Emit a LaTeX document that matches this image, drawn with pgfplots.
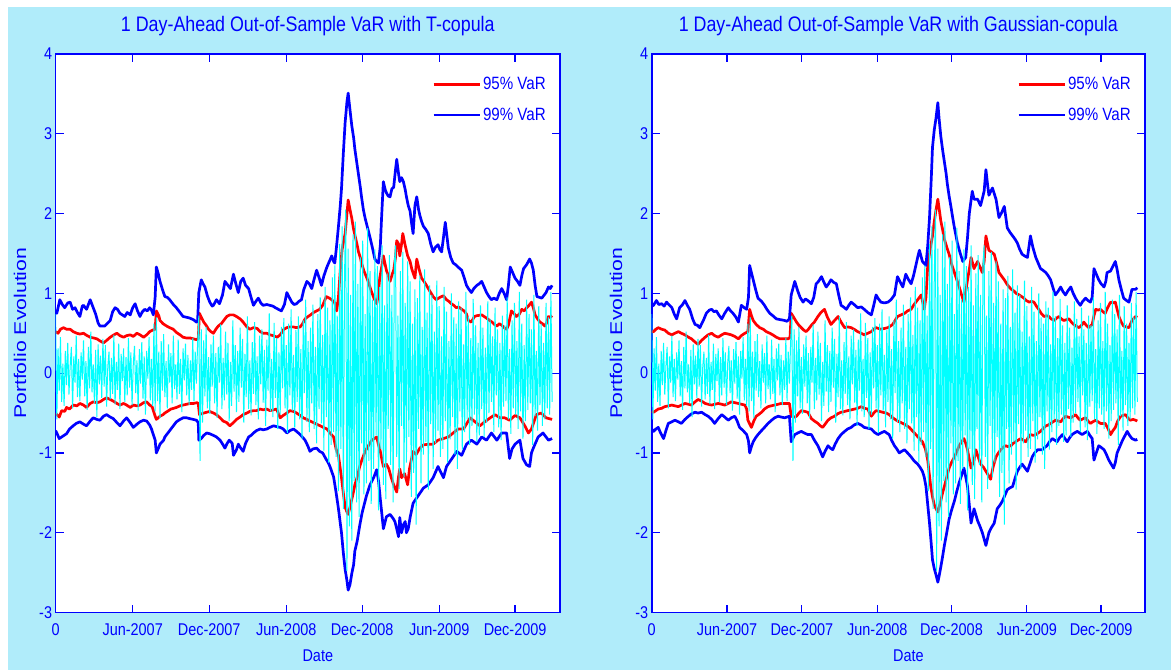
\documentclass[border=0pt]{standalone}
\usepackage{pgfplots}
\pgfplotsset{compat=1.18}
\usepackage{pgfplotstable}
\usepackage{fontspec}
\setmainfont{Liberation Sans}
\newfontfamily\narrowsans{Liberation Sans}[FakeStretch=0.85]
\newfontfamily\tallsans{Liberation Sans}[FakeStretch=1.25]

\definecolor{figbg}{RGB}{176,236,250}
\definecolor{retcyan}{RGB}{0,255,255}
\definecolor{varred}{RGB}{255,0,0}
\definecolor{varblue}{RGB}{0,0,255}

% daily portfolio evolution, sampled every second trading day (day = 2*row)
\pgfplotstableread[row sep=\\,header=false]{
0.74\\ -0.58\\ 0.31\\ -0.22\\ 0.45\\ -0.36\\ 0.12\\ -0.41\\ 0.28\\ -0.15\\
0.38\\ -0.27\\ 0.09\\ 0.33\\ -0.44\\ 0.21\\ -0.12\\ 0.47\\ -0.30\\ 0.18\\
-0.35\\ 0.26\\ -0.08\\ 0.41\\ -0.29\\ 0.15\\ -0.46\\ 0.33\\ -0.19\\ 0.52\\
-0.24\\ 0.11\\ -0.38\\ 0.29\\ -0.55\\ 0.36\\ -0.14\\ 0.22\\ -0.31\\ 0.43\\
-0.17\\ 0.35\\ -0.42\\ 0.08\\ 0.27\\ -0.33\\ 0.19\\ -0.26\\ 0.48\\ -0.39\\
0.14\\ -0.21\\ 0.37\\ -0.45\\ 0.24\\ -0.10\\ 0.31\\ -0.36\\ 0.20\\ -0.28\\
0.44\\ -0.18\\ 0.26\\ -0.40\\ 0.12\\ 0.34\\ -0.25\\ 0.16\\ -0.47\\ 0.30\\
-0.13\\ 0.39\\ -0.32\\ 0.21\\ -0.52\\ 0.28\\ -0.07\\ 0.45\\ -0.34\\ 0.18\\
-0.41\\ 0.62\\ -0.48\\ 0.70\\ -0.35\\ 0.27\\ -0.56\\ 0.40\\ -0.22\\ 0.49\\
-0.30\\ 0.15\\ -0.44\\ 0.36\\ -0.12\\ 0.25\\ -0.38\\ 0.47\\ -0.20\\ 0.11\\
-0.33\\ 0.42\\ -0.26\\ 0.18\\ -0.49\\ 0.31\\ -0.09\\ 0.37\\ -0.28\\ 0.23\\
-0.40\\ 0.16\\ -0.21\\ 0.44\\ -0.35\\ 0.27\\ -0.13\\ 0.38\\ 0.72\\ -1.10\\
0.55\\ -0.62\\ 0.41\\ -0.29\\ 0.58\\ -0.44\\ 0.20\\ -0.51\\ 0.36\\ -0.17\\
0.47\\ -0.38\\ 0.25\\ -0.56\\ 0.33\\ -0.12\\ 0.61\\ -0.45\\ 0.19\\ -0.34\\
0.52\\ -0.27\\ 0.38\\ -0.60\\ 0.14\\ -0.41\\ 0.66\\ -0.23\\ 0.35\\ -0.49\\
0.28\\ -0.36\\ 0.57\\ -0.18\\ 0.43\\ -0.62\\ 0.24\\ -0.30\\ 0.71\\ -0.45\\
0.16\\ -0.53\\ 0.39\\ -0.26\\ 0.64\\ -0.40\\ 0.21\\ -0.58\\ 0.47\\ -0.14\\
0.55\\ -0.37\\ 0.29\\ -0.66\\ 0.42\\ -0.22\\ 0.75\\ -0.48\\ 0.18\\ -0.55\\
0.63\\ -0.31\\ 0.44\\ -0.70\\ 0.26\\ -0.52\\ 0.58\\ -0.19\\ 0.69\\ -0.44\\
0.35\\ -0.75\\ 0.62\\ -0.28\\ 0.80\\ -0.47\\ 0.23\\ -0.68\\ 0.54\\ -0.36\\
0.71\\ -0.58\\ 0.30\\ -0.82\\ 0.66\\ -0.25\\ 0.92\\ -0.61\\ 0.40\\ -0.74\\
0.57\\ -0.38\\ 0.86\\ -0.70\\ 0.33\\ -0.88\\ 0.74\\ -0.45\\ 0.95\\ -0.63\\
0.48\\ -0.97\\ 1.08\\ -0.55\\ 0.82\\ -1.12\\ 0.66\\ -0.90\\ 1.20\\ -0.74\\
1.35\\ -1.05\\ 0.72\\ -1.48\\ 1.62\\ -0.95\\ 1.84\\ -1.70\\ 1.21\\ 2.05\\
-2.48\\ 1.56\\ -1.92\\ 0.98\\ -2.10\\ 1.74\\ -1.35\\ 1.90\\ -1.62\\ 1.12\\
-1.80\\ 1.45\\ -0.88\\ 1.66\\ -1.52\\ 0.74\\ -1.38\\ 1.82\\ -1.10\\ 1.28\\
-1.64\\ 0.92\\ -1.20\\ 1.55\\ -0.78\\ 1.34\\ -1.72\\ 1.08\\ -0.95\\ 1.60\\
-1.40\\ 0.85\\ -1.58\\ 1.25\\ -0.70\\ 1.48\\ -1.15\\ 0.98\\ -1.62\\ 1.36\\
1.60\\ -1.05\\ 0.72\\ -1.45\\ 1.28\\ -0.66\\ 1.52\\ -1.30\\ 0.88\\ -1.12\\
1.40\\ -0.80\\ 1.15\\ -1.55\\ 0.62\\ -1.25\\ 1.05\\ -1.90\\ 0.94\\ -0.70\\
1.22\\ -1.38\\ 0.58\\ -1.02\\ 1.30\\ -0.86\\ 0.76\\ -1.46\\ 1.10\\ -0.64\\
0.98\\ -1.20\\ 0.52\\ -0.88\\ 1.16\\ -0.72\\ 0.84\\ -1.05\\ 0.46\\ -0.95\\
1.08\\ -0.60\\ 0.77\\ -1.12\\ 0.40\\ -0.83\\ 1.00\\ -0.55\\ 0.70\\ -1.02\\
0.62\\ -1.20\\ 0.90\\ -0.48\\ 0.82\\ -0.96\\ 0.36\\ -0.74\\ 1.02\\ -0.58\\
0.71\\ -0.90\\ 0.44\\ -0.66\\ 0.93\\ -0.52\\ 0.60\\ -0.86\\ 0.38\\ -0.78\\
0.85\\ -0.45\\ 0.57\\ -0.80\\ 0.32\\ -0.62\\ 0.90\\ -0.50\\ 0.68\\ -0.36\\
0.46\\ -0.74\\ 0.82\\ -0.28\\ 0.55\\ -0.68\\ 0.38\\ -0.84\\ 0.72\\ -0.42\\
0.60\\ -0.35\\ 0.95\\ -0.58\\ 0.30\\ -0.76\\ 0.66\\ -0.44\\ 0.88\\ -0.52\\
0.40\\ -0.70\\ 1.02\\ -0.48\\ 0.62\\ -0.82\\ 0.35\\ -0.60\\ 0.92\\ -0.46\\
0.74\\ -0.38\\ 0.55\\ -0.90\\ 0.98\\ -0.54\\ 0.28\\ -0.72\\ 0.84\\ -0.40\\
0.62\\ -0.66\\ 0.38\\ -0.58\\ 0.88\\ -0.44\\ 0.70\\ -0.52\\ 1.02\\ -0.36\\
}\returns

\pgfplotsset{
  varpanel/.style={
    scale only axis, width=504.4pt, height=558.5pt,
    xmin=0, xmax=831, ymin=-3, ymax=4,
    axis background/.style={fill=white},
    axis line style={varblue, line width=1.6pt},
    tick style={varblue, line width=1.2pt},
    major tick length=8pt, tick align=inside,
    xtick pos=both, ytick pos=both,
    xticklabel pos=lower, yticklabel pos=left,
    xtick={0,127,253,380,505,632,757},
    xticklabels={0,Jun-2007,Dec-2007,Jun-2008,Dec-2008,Jun-2009,Dec-2009},
    ytick={-3,-2,-1,0,1,2,3,4},
    yticklabels={-3,-2,-1,0,1,2,3,4},
    ticklabel style={font=\narrowsans\fontsize{17}{20}\selectfont, text=varblue},
    xticklabel style={yshift=-8pt},
    every axis title/.style={at={(axis description cs:0.5,1)}, anchor=center,
      yshift=28pt, font=\narrowsans\fontsize{21}{25}\selectfont, text=varblue},
    every axis x label/.style={at={(axis description cs:0.5,0)}, xshift=10pt,
      yshift=-43.5pt, anchor=center, font=\narrowsans\fontsize{17}{20}\selectfont, text=varblue},
    every axis y label/.style={at={(axis description cs:0,0.5)}, xshift=-35.6pt,
      rotate=90, anchor=center, font=\tallsans\fontsize{17}{20}\selectfont, text=varblue},
    xlabel={Date}, ylabel={Portfolio Evolution},
    legend style={draw=none, fill=none, at={(axis description cs:1,1)},
      xshift=-12pt, yshift=-21pt, anchor=north east, inner sep=0pt,
      nodes={inner sep=2pt}, row sep=13pt,
      font=\narrowsans\fontsize{17.8}{20}\selectfont, text=varblue},
    legend cell align=left,
    legend image code/.code={\draw[##1] (0pt,0pt) -- (46pt,0pt);},
  },
  var95/.style={varred, line width=2.7pt, line join=round},
  var99/.style={varblue, line width=2.7pt, line join=round},
  ret/.style={retcyan, line width=1.0pt},
}

\begin{document}
\begin{tikzpicture}
\fill[white] (0,0) rectangle (1171pt,670pt);
\fill[figbg] (7.5pt,0) rectangle (1171pt,663pt);

% ---------------- T-copula ----------------
\begin{axis}[varpanel, at={(55.6pt,57.5pt)}, anchor=south west,
  title={1 Day-Ahead Out-of-Sample VaR with T-copula}]
\addplot[var95] coordinates {
(0,0.52) (4,0.50) (8,0.55) (13,0.57) (18,0.55) (24,0.55) (29,0.52) (35,0.50) (40,0.49) (46,0.50) (52,0.47) (57,0.45) (63,0.44) (68,0.43) (74,0.40) (79,0.38) (84,0.41) (90,0.45) (96,0.48) (101,0.50) (106,0.47) (112,0.45) (117,0.47) (123,0.48) (128,0.46) (134,0.50) (139,0.48) (145,0.45) (150,0.48) (155,0.52) (160,0.54) (164,0.55) (166,0.78) (170,0.72) (172,0.66) (177,0.62) (183,0.59) (188,0.57) (194,0.55) (199,0.51) (205,0.48) (210,0.45) (216,0.44) (222,0.44) (227,0.43) (232,0.42) (235,0.43) (237,0.75) (240,0.70) (244,0.64) (248,0.60) (252,0.55) (256,0.52) (260,0.50) (264,0.55) (268,0.59) (273,0.62) (277,0.66) (282,0.71) (287,0.73) (293,0.73) (298,0.71) (304,0.68) (309,0.64) (315,0.58) (320,0.55) (326,0.57) (332,0.56) (337,0.52) (342,0.50) (348,0.50) (353,0.48) (359,0.47) (365,0.45) (370,0.48) (376,0.55) (381,0.57) (386,0.58) (391,0.58) (397,0.57) (403,0.58) (407,0.62) (411,0.68) (416,0.71) (420,0.73) (425,0.76) (430,0.78) (435,0.80) (440,0.85) (446,0.96) (451,0.94) (455,0.92) (460,0.88) (463,0.78) (466,0.95) (469,1.29) (472,1.55) (477,1.75) (480,2.00) (482,2.17) (485,2.05) (488,1.94) (491,1.80) (494,1.70) (497,1.60) (499,1.52) (502,1.45) (504,1.38) (508,1.28) (513,1.19) (517,1.10) (521,1.01) (525,0.93) (529,0.87) (531,0.95) (534,1.19) (537,1.32) (540,1.47) (545,1.29) (549,1.20) (551,1.15) (555,1.25) (557,1.29) (560,1.45) (562,1.66) (565,1.62) (567,1.47) (570,1.62) (572,1.75) (576,1.60) (580,1.47) (584,1.40) (587,1.30) (592,1.19) (595,1.43) (599,1.30) (603,1.19) (607,1.15) (611,1.10) (614,1.06) (618,1.01) (622,0.96) (627,0.92) (633,0.95) (639,0.97) (644,0.92) (648,0.90) (652,0.87) (656,0.85) (660,0.82) (664,0.83) (669,0.80) (673,0.78) (677,0.74) (680,0.66) (685,0.64) (690,0.71) (694,0.72) (702,0.73) (706,0.71) (710,0.69) (715,0.66) (719,0.64) (723,0.61) (727,0.59) (731,0.62) (735,0.60) (739,0.57) (743,0.55) (746,0.60) (751,0.78) (755,0.75) (759,0.71) (764,0.74) (768,0.80) (772,0.78) (776,0.82) (780,0.85) (784,0.89) (787,0.82) (790,0.73) (794,0.68) (798,0.64) (802,0.62) (806,0.59) (809,0.63) (812,0.71) (815,0.70) (818,0.72)
};
\addlegendentry{95\% VaR}
\addplot[var99] coordinates {
(0,0.78) (2,0.75) (7,0.92) (11,0.86) (15,0.82) (20,0.88) (24,0.89) (28,0.80) (32,0.82) (36,0.76) (40,0.71) (44,0.84) (46,0.85) (51,0.80) (57,0.92) (62,0.82) (66,0.74) (70,0.63) (73,0.59) (81,0.59) (86,0.63) (90,0.66) (94,0.77) (98,0.82) (102,0.80) (106,0.75) (110,0.73) (114,0.71) (118,0.76) (123,0.73) (127,0.82) (131,0.87) (135,0.78) (139,0.71) (143,0.77) (147,0.80) (151,0.78) (155,0.82) (158,0.79) (161,0.73) (164,0.95) (166,1.33) (169,1.25) (172,1.15) (176,1.05) (180,0.96) (184,0.95) (188,0.92) (194,0.86) (199,0.82) (205,0.76) (210,0.71) (216,0.70) (221,0.69) (227,0.67) (232,0.64) (234,0.66) (236,1.01) (240,1.17) (243,1.12) (246,1.08) (250,0.97) (254,0.89) (258,0.84) (260,0.85) (265,0.92) (270,0.87) (275,0.98) (279,1.15) (284,1.10) (288,1.06) (293,1.24) (297,1.12) (301,1.01) (305,1.15) (309,1.19) (313,1.10) (318,1.06) (322,0.95) (326,0.85) (330,0.90) (334,0.94) (338,0.88) (342,0.85) (348,0.86) (353,0.85) (358,0.84) (362,0.82) (367,0.80) (372,0.78) (377,0.86) (381,1.01) (385,0.95) (389,0.89) (393,0.86) (397,0.87) (401,0.90) (405,0.92) (409,1.05) (414,1.15) (418,1.12) (422,1.06) (426,1.18) (430,1.29) (434,1.20) (438,1.10) (442,1.22) (447,1.33) (451,1.40) (455,1.47) (458,1.40) (460,1.38) (463,1.60) (466,1.84) (469,2.10) (471,2.31) (474,2.75) (477,3.14) (480,3.40) (482,3.51) (485,3.30) (488,3.10) (491,2.95) (493,2.81) (496,2.65) (499,2.49) (502,2.33) (504,2.21) (507,2.05) (510,1.94) (514,1.82) (518,1.70) (522,1.57) (526,1.43) (529,1.40) (532,1.38) (535,1.60) (537,1.94) (540,2.40) (543,2.30) (545,2.26) (548,2.22) (551,2.21) (554,2.31) (557,2.33) (560,2.55) (562,2.68) (565,2.50) (567,2.40) (570,2.45) (573,2.40) (576,2.30) (578,2.21) (581,2.10) (584,2.03) (587,1.85) (589,1.75) (592,2.10) (595,2.21) (598,2.05) (600,1.98) (603,1.90) (606,1.84) (610,1.80) (614,1.75) (618,1.62) (622,1.52) (626,1.58) (630,1.61) (633,1.55) (636,1.52) (639,1.70) (642,1.89) (645,1.70) (647,1.57) (651,1.45) (655,1.38) (659,1.36) (663,1.33) (666,1.31) (669,1.29) (673,1.20) (677,1.10) (681,1.05) (685,1.01) (689,1.06) (694,1.10) (698,1.12) (702,1.15) (706,1.08) (710,1.01) (714,0.96) (718,0.92) (722,0.94) (727,0.92) (731,1.00) (735,1.06) (739,1.00) (743,0.92) (746,1.10) (749,1.33) (753,1.26) (757,1.19) (761,1.15) (765,1.10) (768,1.22) (771,1.31) (776,1.36) (781,1.43) (784,1.38) (787,1.29) (790,1.10) (793,0.96) (797,0.95) (801,0.94) (805,0.98) (808,1.01) (812,1.08) (815,1.06) (818,1.10)
};
\addlegendentry{99\% VaR}
\addplot[var95, forget plot] coordinates {
(0,-0.50) (2,-0.52) (6,-0.55) (10,-0.47) (15,-0.48) (18,-0.43) (23,-0.45) (29,-0.40) (35,-0.41) (40,-0.38) (46,-0.40) (51,-0.43) (57,-0.38) (62,-0.36) (68,-0.37) (73,-0.36) (79,-0.33) (84,-0.31) (90,-0.33) (95,-0.35) (101,-0.38) (106,-0.40) (112,-0.38) (117,-0.40) (123,-0.43) (128,-0.40) (134,-0.41) (139,-0.40) (145,-0.37) (150,-0.36) (155,-0.40) (159,-0.42) (164,-0.54) (166,-0.58) (172,-0.54) (177,-0.52) (180,-0.50) (186,-0.47) (190,-0.45) (195,-0.44) (199,-0.43) (205,-0.41) (210,-0.40) (216,-0.39) (221,-0.38) (227,-0.38) (233,-0.37) (235,-0.38) (237,-0.52) (240,-0.51) (244,-0.50) (249,-0.49) (254,-0.48) (260,-0.50) (265,-0.52) (271,-0.56) (276,-0.60) (282,-0.62) (287,-0.66) (293,-0.62) (298,-0.58) (304,-0.55) (309,-0.52) (315,-0.50) (320,-0.48) (326,-0.47) (331,-0.47) (337,-0.45) (342,-0.46) (348,-0.45) (353,-0.47) (359,-0.46) (364,-0.45) (370,-0.56) (375,-0.53) (381,-0.50) (386,-0.47) (392,-0.48) (397,-0.50) (403,-0.53) (408,-0.56) (414,-0.58) (419,-0.60) (425,-0.62) (430,-0.64) (436,-0.66) (441,-0.68) (447,-0.70) (452,-0.75) (458,-0.80) (462,-0.95) (466,-1.03) (471,-1.31) (474,-1.50) (477,-1.68) (480,-1.74) (482,-1.77) (485,-1.68) (488,-1.58) (491,-1.48) (493,-1.40) (497,-1.30) (501,-1.17) (505,-1.08) (510,-0.98) (516,-0.90) (521,-0.84) (525,-0.82) (529,-0.80) (532,-0.90) (535,-0.98) (538,-1.10) (540,-1.17) (545,-1.14) (549,-1.20) (553,-1.31) (557,-1.40) (562,-1.49) (565,-1.30) (567,-1.20) (570,-1.31) (575,-1.26) (580,-1.40) (583,-1.20) (589,-0.98) (594,-1.02) (600,-0.94) (606,-0.90) (614,-0.89) (622,-0.89) (630,-0.84) (639,-0.82) (647,-0.80) (655,-0.75) (663,-0.70) (672,-0.70) (683,-0.56) (691,-0.61) (699,-0.66) (707,-0.61) (716,-0.56) (724,-0.52) (732,-0.56) (740,-0.56) (748,-0.59) (757,-0.53) (765,-0.56) (773,-0.66) (779,-0.75) (784,-0.70) (792,-0.52) (800,-0.50) (808,-0.56) (813,-0.57) (818,-0.58)
};
\addplot[var99, forget plot] coordinates {
(0,-0.72) (2,-0.75) (6,-0.82) (10,-0.80) (14,-0.78) (18,-0.76) (23,-0.70) (29,-0.66) (34,-0.63) (40,-0.61) (46,-0.64) (51,-0.66) (57,-0.60) (62,-0.56) (68,-0.58) (73,-0.59) (79,-0.54) (84,-0.52) (90,-0.55) (95,-0.57) (101,-0.62) (106,-0.66) (112,-0.60) (117,-0.56) (123,-0.62) (128,-0.68) (134,-0.64) (139,-0.61) (145,-0.59) (150,-0.60) (155,-0.65) (158,-0.70) (164,-0.84) (166,-1.00) (170,-0.93) (172,-0.89) (178,-0.84) (180,-0.80) (186,-0.74) (190,-0.70) (195,-0.65) (199,-0.61) (205,-0.58) (210,-0.56) (216,-0.56) (221,-0.57) (227,-0.58) (232,-0.59) (235,-0.62) (236,-0.84) (240,-0.82) (244,-0.78) (249,-0.75) (254,-0.76) (260,-0.78) (265,-0.80) (271,-0.84) (276,-0.90) (279,-0.94) (282,-0.89) (286,-0.84) (291,-0.88) (293,-1.03) (298,-0.96) (301,-0.89) (305,-0.94) (309,-0.98) (313,-0.88) (318,-0.80) (322,-0.78) (326,-0.75) (331,-0.72) (337,-0.70) (342,-0.71) (348,-0.70) (353,-0.68) (359,-0.66) (364,-0.67) (370,-0.68) (375,-0.70) (381,-0.75) (386,-0.72) (392,-0.70) (397,-0.73) (403,-0.77) (411,-0.84) (416,-0.92) (419,-0.98) (424,-0.95) (430,-0.94) (435,-0.98) (440,-1.00) (445,-1.07) (449,-1.12) (452,-1.17) (458,-1.30) (462,-1.49) (466,-1.70) (471,-2.00) (474,-2.25) (477,-2.46) (480,-2.60) (482,-2.72) (485,-2.65) (488,-2.51) (491,-2.40) (493,-2.23) (497,-2.10) (501,-1.91) (505,-1.75) (512,-1.54) (518,-1.40) (524,-1.31) (529,-1.21) (532,-1.35) (535,-1.58) (540,-1.95) (545,-1.80) (551,-1.77) (556,-1.82) (559,-1.86) (562,-1.95) (565,-2.05) (567,-1.81) (570,-2.00) (573,-1.90) (576,-1.86) (578,-2.00) (581,-1.95) (584,-1.81) (589,-1.63) (597,-1.54) (606,-1.44) (614,-1.40) (622,-1.31) (630,-1.17) (639,-1.31) (644,-1.17) (653,-1.07) (661,-0.98) (669,-1.03) (677,-0.89) (685,-0.84) (694,-0.89) (702,-0.80) (710,-0.84) (718,-0.75) (727,-0.84) (735,-0.75) (743,-0.75) (748,-1.07) (752,-0.95) (757,-0.89) (765,-0.84) (770,-1.07) (776,-1.15) (781,-1.17) (784,-1.00) (787,-0.94) (795,-0.80) (803,-0.75) (808,-0.80) (812,-0.84) (818,-0.82)
};
\addplot[ret, forget plot] table[x expr=2*\coordindex, y index=0] {\returns};
\end{axis}

% ---------------- Gaussian copula ----------------
\begin{axis}[varpanel, width=493.3pt, at={(651.7pt,57.5pt)}, anchor=south west,
  title={1 Day-Ahead Out-of-Sample VaR with Gaussian-copula}]
\addplot[var95] coordinates {
(0,0.52) (3,0.52) (7,0.55) (11,0.57) (17,0.55) (22,0.54) (28,0.50) (34,0.48) (39,0.50) (45,0.52) (50,0.50) (56,0.48) (62,0.45) (67,0.43) (73,0.39) (78,0.36) (84,0.41) (90,0.45) (95,0.48) (101,0.50) (106,0.47) (112,0.45) (118,0.48) (123,0.50) (129,0.49) (134,0.48) (140,0.46) (146,0.43) (151,0.47) (157,0.50) (162,0.52) (165,0.80) (168,0.72) (171,0.66) (176,0.61) (182,0.57) (188,0.55) (193,0.52) (199,0.50) (204,0.48) (210,0.45) (216,0.43) (222,0.43) (230,0.43) (233,0.45) (235,0.75) (240,0.69) (244,0.64) (248,0.60) (252,0.57) (256,0.54) (260,0.52) (264,0.55) (269,0.60) (274,0.64) (280,0.71) (285,0.76) (291,0.80) (296,0.70) (302,0.61) (308,0.66) (314,0.71) (319,0.64) (325,0.57) (330,0.58) (336,0.57) (341,0.55) (347,0.52) (353,0.50) (358,0.48) (364,0.50) (370,0.52) (374,0.55) (378,0.57) (386,0.55) (392,0.56) (398,0.57) (406,0.61) (410,0.66) (414,0.71) (420,0.73) (426,0.75) (431,0.78) (437,0.80) (441,0.85) (445,0.89) (450,0.94) (454,0.98) (459,0.80) (462,0.95) (465,1.35) (469,1.55) (473,1.72) (476,1.90) (479,2.05) (482,2.18) (485,2.02) (487,1.91) (490,1.80) (493,1.68) (497,1.58) (501,1.49) (505,1.37) (510,1.26) (514,1.17) (518,1.08) (522,0.98) (526,0.89) (529,1.02) (532,1.17) (535,1.30) (538,1.45) (543,1.31) (549,1.40) (553,1.33) (557,1.26) (560,1.40) (563,1.72) (568,1.54) (572,1.52) (577,1.49) (581,1.38) (585,1.26) (590,1.21) (594,1.17) (598,1.12) (602,1.08) (606,1.05) (610,1.03) (614,1.00) (619,0.98) (623,0.96) (627,0.94) (631,0.91) (636,0.89) (640,0.90) (644,0.89) (648,0.84) (652,0.80) (656,0.75) (661,0.71) (665,0.72) (669,0.71) (673,0.68) (678,0.66) (682,0.69) (686,0.71) (690,0.68) (694,0.66) (699,0.67) (703,0.68) (707,0.64) (711,0.61) (715,0.59) (720,0.57) (724,0.60) (728,0.64) (732,0.60) (736,0.57) (742,0.61) (745,0.72) (748,0.80) (752,0.79) (756,0.80) (760,0.77) (764,0.75) (768,0.82) (773,0.89) (777,0.88) (781,0.89) (784,0.80) (787,0.71) (791,0.64) (795,0.59) (799,0.58) (804,0.57) (809,0.66) (815,0.71) (818,0.70)
};
\addlegendentry{95\% VaR}
\addplot[var99] coordinates {
(0,0.84) (3,0.85) (8,0.91) (12,0.86) (17,0.87) (21,0.84) (25,0.89) (30,0.85) (34,0.82) (38,0.74) (42,0.68) (47,0.82) (52,0.86) (56,0.91) (60,0.85) (64,0.80) (69,0.68) (73,0.61) (77,0.60) (81,0.57) (87,0.66) (92,0.75) (97,0.79) (101,0.80) (105,0.77) (109,0.78) (113,0.73) (118,0.68) (123,0.75) (129,0.82) (133,0.78) (137,0.75) (142,0.70) (146,0.64) (151,0.85) (156,0.82) (160,0.80) (163,0.95) (165,1.35) (168,1.26) (171,1.17) (175,1.05) (179,0.94) (185,0.90) (190,0.85) (194,0.80) (199,0.75) (204,0.72) (210,0.68) (217,0.67) (224,0.66) (228,0.65) (232,0.68) (235,0.98) (241,1.15) (246,1.03) (250,0.95) (255,0.89) (259,0.93) (263,0.91) (269,0.87) (273,0.95) (277,1.12) (281,1.15) (286,1.21) (290,1.14) (294,1.08) (298,1.12) (302,1.17) (306,1.14) (311,1.12) (315,0.98) (319,0.85) (323,0.83) (328,0.80) (332,0.85) (336,0.89) (341,0.86) (347,0.82) (353,0.83) (358,0.80) (364,0.76) (370,0.73) (374,0.85) (378,0.98) (382,0.93) (386,0.89) (392,0.88) (398,0.89) (403,0.92) (409,0.98) (414,1.21) (418,1.15) (423,1.08) (428,1.24) (432,1.18) (437,1.12) (441,1.22) (445,1.35) (448,1.45) (451,1.54) (456,1.40) (462,1.35) (465,1.60) (468,1.95) (471,2.45) (473,2.83) (476,3.05) (479,3.20) (482,3.39) (484,3.20) (487,2.97) (490,2.80) (493,2.65) (496,2.50) (498,2.37) (501,2.22) (504,2.09) (507,1.95) (510,1.82) (515,1.63) (519,1.52) (524,1.40) (529,1.45) (532,1.70) (535,2.00) (540,2.28) (543,2.18) (549,2.18) (554,2.10) (560,2.28) (563,2.55) (566,2.35) (568,2.23) (574,2.32) (580,2.18) (585,1.95) (590,2.02) (594,2.09) (599,1.82) (604,1.76) (608,1.72) (612,1.68) (616,1.63) (620,1.55) (624,1.49) (628,1.47) (633,1.45) (638,1.72) (642,1.58) (647,1.45) (651,1.38) (655,1.31) (659,1.29) (664,1.26) (668,1.22) (672,1.17) (676,1.07) (680,0.98) (685,1.03) (689,1.08) (693,1.02) (697,0.98) (701,1.03) (706,1.08) (710,1.00) (714,0.94) (718,0.89) (722,0.85) (726,0.90) (731,0.94) (735,0.91) (739,0.89) (742,0.95) (745,1.31) (749,1.24) (753,1.17) (757,1.12) (762,1.08) (765,1.15) (767,1.26) (773,1.28) (777,1.34) (781,1.40) (784,1.30) (787,1.17) (791,1.05) (795,0.94) (800,0.91) (804,0.89) (809,1.05) (815,1.05) (818,1.07)
};
\addlegendentry{99\% VaR}
\addplot[var95, forget plot] coordinates {
(0,-0.48) (3,-0.49) (7,-0.47) (11,-0.45) (17,-0.44) (22,-0.42) (28,-0.41) (34,-0.40) (39,-0.41) (45,-0.42) (50,-0.40) (56,-0.38) (62,-0.39) (67,-0.40) (73,-0.36) (78,-0.33) (84,-0.35) (90,-0.38) (95,-0.39) (101,-0.40) (106,-0.39) (112,-0.38) (118,-0.39) (123,-0.40) (129,-0.38) (134,-0.36) (140,-0.37) (146,-0.38) (151,-0.39) (157,-0.40) (160,-0.45) (162,-0.59) (168,-0.68) (172,-0.60) (176,-0.54) (180,-0.52) (185,-0.49) (190,-0.45) (196,-0.42) (201,-0.41) (207,-0.40) (213,-0.39) (218,-0.38) (225,-0.38) (232,-0.38) (235,-0.54) (240,-0.55) (244,-0.54) (248,-0.50) (252,-0.47) (258,-0.48) (263,-0.49) (269,-0.57) (274,-0.60) (280,-0.63) (284,-0.66) (288,-0.68) (293,-0.63) (297,-0.59) (302,-0.56) (308,-0.54) (313,-0.51) (319,-0.49) (325,-0.48) (330,-0.47) (336,-0.46) (342,-0.45) (347,-0.44) (353,-0.42) (358,-0.44) (364,-0.45) (370,-0.54) (374,-0.50) (378,-0.47) (384,-0.48) (389,-0.49) (395,-0.50) (400,-0.52) (406,-0.56) (412,-0.59) (417,-0.61) (423,-0.63) (428,-0.65) (434,-0.68) (440,-0.73) (445,-0.77) (451,-0.82) (456,-0.86) (461,-0.95) (465,-1.09) (470,-1.42) (473,-1.55) (476,-1.65) (479,-1.70) (482,-1.74) (484,-1.68) (487,-1.60) (490,-1.50) (493,-1.42) (497,-1.30) (501,-1.19) (505,-1.12) (510,-1.05) (514,-0.98) (518,-0.91) (522,-0.86) (526,-0.82) (529,-0.88) (532,-0.96) (535,-1.08) (538,-1.19) (543,-1.09) (546,-0.96) (550,-1.05) (554,-1.14) (559,-1.18) (563,-1.23) (567,-1.28) (571,-1.33) (575,-1.18) (580,-1.05) (584,-1.00) (588,-0.96) (592,-0.93) (596,-0.91) (600,-0.92) (605,-0.91) (609,-0.88) (613,-0.86) (617,-0.84) (622,-0.82) (626,-0.84) (630,-0.86) (634,-0.81) (638,-0.77) (643,-0.78) (647,-0.77) (651,-0.75) (655,-0.73) (660,-0.69) (664,-0.66) (668,-0.65) (672,-0.63) (676,-0.61) (680,-0.59) (685,-0.60) (689,-0.61) (693,-0.57) (697,-0.54) (701,-0.55) (706,-0.56) (710,-0.54) (714,-0.52) (718,-0.56) (722,-0.59) (727,-0.57) (731,-0.56) (735,-0.60) (739,-0.63) (743,-0.61) (748,-0.59) (752,-0.61) (756,-0.63) (760,-0.63) (764,-0.63) (769,-0.70) (773,-0.77) (777,-0.72) (781,-0.68) (785,-0.60) (790,-0.54) (794,-0.53) (798,-0.52) (802,-0.56) (806,-0.59) (811,-0.58) (815,-0.59) (818,-0.60)
};
\addplot[var99, forget plot] coordinates {
(0,-0.70) (3,-0.73) (7,-0.70) (11,-0.68) (15,-0.75) (20,-0.82) (24,-0.72) (28,-0.63) (34,-0.61) (39,-0.59) (45,-0.61) (50,-0.63) (56,-0.58) (62,-0.54) (67,-0.51) (73,-0.49) (78,-0.50) (84,-0.49) (90,-0.52) (95,-0.54) (101,-0.58) (106,-0.63) (112,-0.57) (118,-0.52) (123,-0.55) (129,-0.59) (134,-0.56) (140,-0.54) (144,-0.60) (148,-0.68) (154,-0.72) (160,-0.77) (163,-0.85) (165,-1.00) (168,-0.92) (171,-0.86) (175,-0.81) (179,-0.77) (185,-0.72) (190,-0.68) (196,-0.63) (202,-0.59) (207,-0.56) (213,-0.54) (218,-0.55) (224,-0.56) (228,-0.55) (232,-0.54) (235,-0.86) (241,-0.77) (246,-0.75) (252,-0.73) (257,-0.75) (263,-0.77) (269,-0.77) (274,-0.84) (280,-0.91) (284,-0.98) (288,-1.05) (292,-0.98) (297,-0.91) (301,-0.94) (305,-0.96) (309,-0.89) (314,-0.82) (319,-0.77) (325,-0.73) (330,-0.70) (336,-0.68) (341,-0.65) (347,-0.63) (353,-0.65) (358,-0.68) (364,-0.69) (370,-0.70) (375,-0.74) (381,-0.77) (386,-0.75) (392,-0.73) (396,-0.75) (400,-0.77) (404,-0.84) (409,-0.91) (413,-0.95) (417,-1.00) (421,-0.98) (426,-0.96) (431,-1.00) (437,-1.05) (442,-1.10) (448,-1.14) (452,-1.18) (456,-1.23) (459,-1.30) (462,-1.42) (465,-1.65) (468,-1.88) (471,-2.15) (473,-2.34) (476,-2.45) (479,-2.53) (482,-2.62) (484,-2.55) (487,-2.43) (490,-2.30) (493,-2.16) (497,-2.00) (501,-1.83) (505,-1.72) (510,-1.60) (514,-1.48) (518,-1.37) (522,-1.28) (526,-1.19) (529,-1.30) (532,-1.42) (535,-1.65) (538,-1.88) (543,-1.70) (549,-1.85) (553,-1.92) (557,-2.00) (560,-2.08) (563,-2.16) (568,-2.00) (572,-1.94) (577,-1.88) (582,-1.70) (587,-1.65) (591,-1.60) (595,-1.53) (599,-1.46) (603,-1.44) (608,-1.42) (612,-1.32) (616,-1.23) (620,-1.18) (624,-1.14) (628,-1.18) (633,-1.23) (637,-1.14) (641,-1.05) (645,-1.00) (650,-0.96) (654,-0.96) (658,-0.96) (662,-0.93) (666,-0.91) (670,-0.86) (675,-0.82) (679,-0.84) (683,-0.86) (687,-0.81) (692,-0.77) (696,-0.82) (700,-0.86) (704,-0.81) (708,-0.77) (712,-0.75) (717,-0.73) (721,-0.75) (725,-0.77) (729,-0.75) (734,-0.73) (738,-0.78) (742,-0.82) (745,-1.09) (749,-1.00) (753,-0.91) (757,-0.93) (762,-0.96) (766,-1.02) (770,-1.09) (774,-1.14) (778,-1.19) (781,-1.12) (784,-1.00) (788,-0.93) (792,-0.86) (796,-0.80) (801,-0.73) (805,-0.78) (809,-0.82) (815,-0.84) (818,-0.83)
};
\addplot[ret, forget plot] table[x expr=2*\coordindex, y index=0] {\returns};
\end{axis}

\pgfresetboundingbox
\path[use as bounding box] (0,0) rectangle (1171pt,670pt);
\end{tikzpicture}
\end{document}
